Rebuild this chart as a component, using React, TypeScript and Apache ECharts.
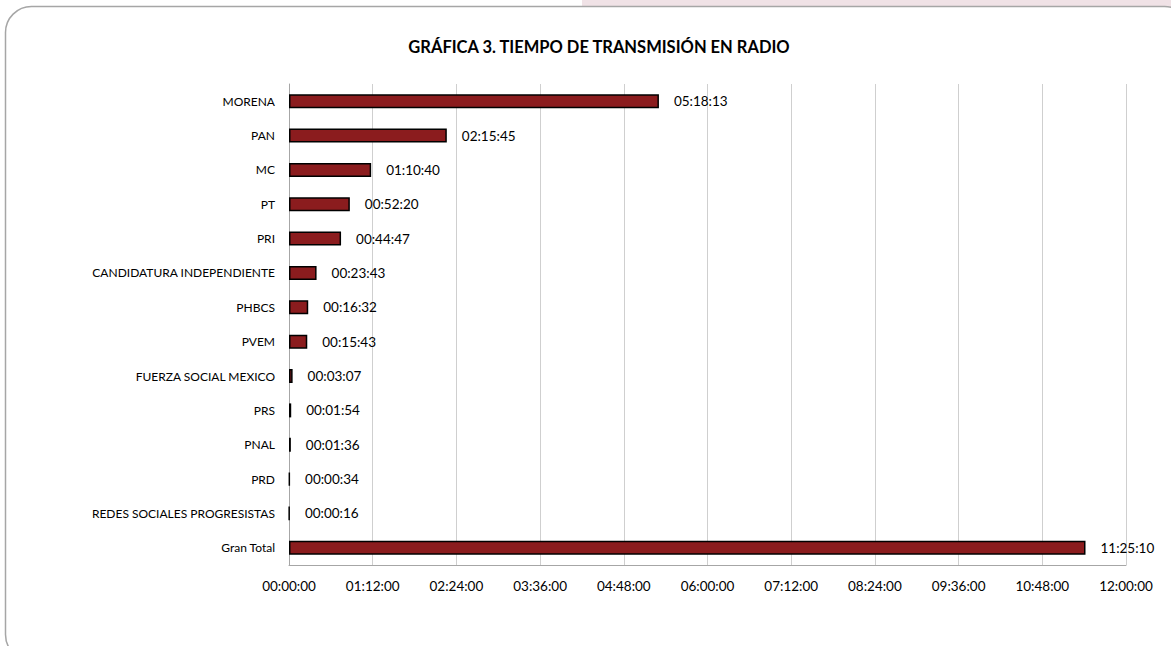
import React, { useEffect, useRef } from "react";
import * as echarts from "echarts";

const categories = [
  "MORENA",
  "PAN",
  "MC",
  "PT",
  "PRI",
  "CANDIDATURA INDEPENDIENTE",
  "PHBCS",
  "PVEM",
  "FUERZA SOCIAL MEXICO",
  "PRS",
  "PNAL",
  "PRD",
  "REDES SOCIALES PROGRESISTAS",
  "Gran Total",
];

// durations as HH:MM:SS
const durations = [
  "05:18:13",
  "02:15:45",
  "01:10:40",
  "00:52:20",
  "00:44:47",
  "00:23:43",
  "00:16:32",
  "00:15:43",
  "00:03:07",
  "00:01:54",
  "00:01:36",
  "00:00:34",
  "00:00:16",
  "11:25:10",
];

const axisMaxSeconds = 43200;
const axisIntervalSeconds = 4320;

const toSeconds = (s: string) => {
  const [h, m, sec] = s.split(":").map(Number);
  return h * 3600 + m * 60 + sec;
};
const pad = (n: number) => String(n).padStart(2, "0");
const fmt = (v: number) => {
  const t = Math.round(v);
  return `${pad(Math.floor(t / 3600))}:${pad(Math.floor((t % 3600) / 60))}:${pad(t % 60)}`;
};

const values = durations.map(toSeconds);

export default function App() {
  const ref = useRef<HTMLDivElement>(null);
  useEffect(() => {
    if (!ref.current) return;
    const chart = echarts.init(ref.current, null, { renderer: "svg" });
    const font = "Lato, 'Open Sans', sans-serif";
    chart.setOption({
      animation: false,
      backgroundColor: "#ffffff",
      textStyle: { fontFamily: font },
      graphic: [
        {
          type: "rect",
          shape: { x: 582, y: 0, width: 600, height: 7 },
          style: { fill: "#f0e2e6" },
          silent: true,
          z: -10,
        },
        {
          type: "rect",
          shape: { x: 5.5, y: 6.5, width: 1185, height: 654, r: 26 },
          style: { fill: "none", stroke: "#a6a6a6", lineWidth: 1.5 },
          silent: true,
          z: -5,
        },
      ],
      title: {
        text: "GRÁFICA 3. TIEMPO DE TRANSMISIÓN EN RADIO",
        left: 594,
        textAlign: "center",
        top: 33,
        textStyle: { fontFamily: font, fontSize: 16.5, fontWeight: "bold", color: "#000" },
      },
      grid: { left: 289, right: 45, top: 84, bottom: 81, containLabel: false },
      xAxis: {
        type: "value",
        min: 0,
        max: axisMaxSeconds,
        interval: axisIntervalSeconds,
        axisLine: { show: true, lineStyle: { color: "#a6a6a6", width: 1 } },
        axisTick: { show: false },
        splitLine: { show: true, lineStyle: { color: "#cfcfcf", width: 1 } },
        axisLabel: {
          formatter: (v: number) => fmt(v),
          color: "#000",
          fontSize: 13.5,
          fontFamily: font,
          margin: 14,
        },
      },
      yAxis: {
        type: "category",
        data: categories,
        inverse: true,
        axisLine: { show: true, lineStyle: { color: "#a6a6a6", width: 1 } },
        axisTick: { show: false },
        axisLabel: { color: "#000", fontSize: 12, fontFamily: font, margin: 14 },
      },
      series: [
        {
          type: "bar",
          data: values,
          barWidth: 14,
          itemStyle: { color: "#8b1c1e", borderColor: "#000", borderWidth: 1.5 },
          label: {
            show: true,
            position: "right",
            distance: 15,
            formatter: (p: any) => fmt(p.value),
            color: "#000",
            fontSize: 13.5,
            fontFamily: font,
          },
        },
      ],
    });
    return () => chart.dispose();
  }, []);
  return (
    <div
      ref={ref}
      style={{ position: "fixed", left: 0, top: 0, width: 1171, height: 646 }}
    />
  );
}
